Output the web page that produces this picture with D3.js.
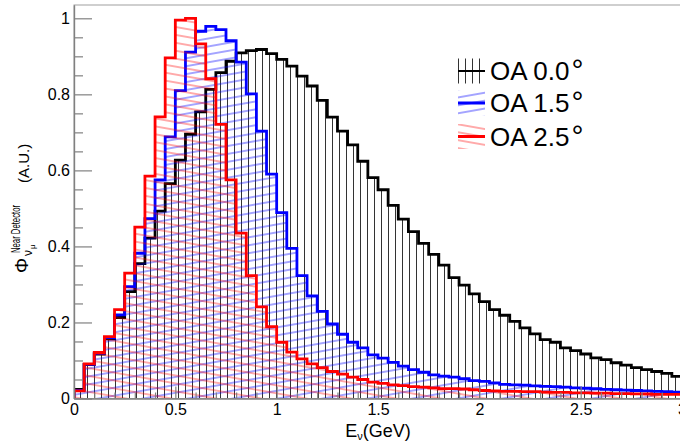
<!DOCTYPE html>
<html><head><meta charset="utf-8">
<script src="https://cdn.jsdelivr.net/npm/d3@7"></script>
<style>
body{margin:0;background:#fff}
svg{display:block}
text{font-family:"Liberation Sans",Arial,Helvetica,sans-serif}
</style>
</head><body>
<svg id="c" width="680" height="443"></svg>
<script>
// ---------------- data ----------------
const seriesNames = ["OA 0.0°", "OA 1.5°", "OA 2.5°"];
const seriesColors = ["#000000", "#0000ff", "#ff0000"];
const binWidth = 0.05;
const oa00 = [0.024,0.089,0.117,0.157,0.213,0.281,0.355,0.422,0.493,0.565,
              0.627,0.695,0.754,0.813,0.857,0.887,0.909,0.915,0.918,0.907,
              0.892,0.874,0.848,0.822,0.784,0.740,0.703,0.667,0.624,0.581,
              0.549,0.508,0.472,0.439,0.408,0.379,0.351,0.318,0.298,0.275,
              0.255,0.234,0.219,0.203,0.186,0.170,0.155,0.148,0.133,0.126,
              0.117,0.107,0.102,0.094,0.088,0.081,0.076,0.071,0.066,0.058];
const oa15 = [0.021,0.090,0.119,0.160,0.220,0.294,0.382,0.473,0.575,0.688,
              0.810,0.911,0.966,0.979,0.970,0.941,0.885,0.801,0.703,0.590,
              0.489,0.395,0.323,0.270,0.229,0.196,0.169,0.148,0.133,0.115,
              0.106,0.095,0.085,0.076,0.069,0.062,0.059,0.056,0.052,0.047,
              0.045,0.041,0.037,0.036,0.035,0.033,0.032,0.031,0.030,0.028,
              0.027,0.026,0.024,0.023,0.022,0.021,0.020,0.019,0.018,0.017];
const oa25 = [0.020,0.091,0.121,0.163,0.234,0.330,0.451,0.585,0.741,0.896,
              0.995,1.000,0.933,0.841,0.721,0.575,0.435,0.323,0.241,0.189,
              0.148,0.122,0.104,0.091,0.081,0.071,0.064,0.056,0.050,0.043,
              0.040,0.036,0.034,0.031,0.030,0.028,0.026,0.026,0.025,0.023,
              0.021,0.020,0.019,0.019,0.018,0.018,0.017,0.016,0.016,0.015,
              0.015,0.014,0.014,0.013,0.013,0.012,0.012,0.011,0.011,0.011];
const xTickValues = [0, 0.5, 1, 1.5, 2, 2.5, 3];
const xTickLabels = ["0", "0.5", "1", "1.5", "2", "2.5", "3"];
const yTickValues = [0, 0.2, 0.4, 0.6, 0.8, 1];
const yTickLabels = ["0", "0.2", "0.4", "0.6", "0.8", "1"];

// ---------------- layout ----------------
const svg = d3.select("#c");
const X0 = 74, X1 = 682, Y0 = 398.5, Y1 = 5;
const x = d3.scaleLinear().domain([0, 3]).range([X0, X1]);
const y = d3.scaleLinear().domain([0, 1.035]).range([Y0, Y1]);

const defs = svg.append("defs");
defs.append("clipPath").attr("id", "plotclip")
  .append("rect").attr("x", X0).attr("y", Y1).attr("width", X1 - X0).attr("height", Y0 - Y1);

// hatch patterns
function hatch(id, color, angle, opacity, gap) {
  const p = defs.append("pattern").attr("id", id)
    .attr("patternUnits", "userSpaceOnUse")
    .attr("width", gap).attr("height", gap)
    .attr("patternTransform", `rotate(${angle})`);
  p.append("line").attr("x1", 0).attr("x2", gap).attr("y1", gap / 2).attr("y2", gap / 2)
    .attr("stroke", color).attr("stroke-width", 1).attr("stroke-opacity", opacity);
}
hatch("h0", "#000", 90, 0.8, 7);
hatch("h1", "#0000ff", -10, 0.7, 7.8);
hatch("h2", "#ff0000", 10, 0.65, 7.8);

const allSeries = [oa00, oa15, oa25];
const plot = svg.append("g").attr("clip-path", "url(#plotclip)");

allSeries.forEach((vals, k) => {
  const pts = vals.map((v, i) => [i * binWidth, v]);
  pts.push([3, vals[vals.length - 1]]);
  const area = d3.area().curve(d3.curveStepAfter)
    .x(d => x(d[0])).y0(y(0)).y1(d => y(d[1]));
  plot.append("path").datum(pts).attr("d", area)
    .attr("fill", `url(#h${k})`).attr("stroke", "none");
  const outline = [[0, 0]].concat(pts).concat([[3, 0]]);
  const line = d3.line().curve(d3.curveStepAfter).x(d => x(d[0])).y(d => y(d[1]));
  plot.append("path").datum(outline).attr("d", line)
    .attr("fill", "none").attr("stroke", seriesColors[k])
    .attr("stroke-width", 2.8).attr("stroke-linejoin", "miter");
});

// ---------------- axes ----------------
const axisColor = "#808080";
svg.append("rect").attr("x", X0).attr("y", Y1).attr("width", X1 - X0).attr("height", Y0 - Y1)
  .attr("fill", "none").attr("stroke", "#a0a0a0").attr("stroke-width", 1);

const yMinorVals = d3.range(0, 21).map(i => i * 0.05).filter(v => Math.abs(v * 5 - Math.round(v * 5)) > 1e-6);
const xMinorVals = d3.range(0, 31).map(i => i * 0.1).filter(v => Math.abs(v * 2 - Math.round(v * 2)) > 1e-6);

const gy = svg.append("g").attr("transform", `translate(${X0},0)`)
  .call(d3.axisLeft(y).tickValues(yTickValues).tickFormat((d, i) => yTickLabels[i])
        .tickSizeInner(-18).tickSizeOuter(0).tickPadding(4));
const gym = svg.append("g").attr("transform", `translate(${X0},0)`)
  .call(d3.axisLeft(y).tickValues(yMinorVals).tickFormat("").tickSizeInner(-9).tickSizeOuter(0));
const gx = svg.append("g").attr("transform", `translate(0,${Y0})`)
  .call(d3.axisBottom(x).tickValues(xTickValues).tickFormat((d, i) => xTickLabels[i])
        .tickSizeInner(-12).tickSizeOuter(0).tickPadding(5));
const gxm = svg.append("g").attr("transform", `translate(0,${Y0})`)
  .call(d3.axisBottom(x).tickValues(xMinorVals).tickFormat("").tickSizeInner(-6).tickSizeOuter(0));
[gy, gym, gx, gxm].forEach(g => {
  g.select(".domain").attr("stroke", axisColor).attr("stroke-width", 1.2);
  g.selectAll(".tick line").attr("stroke", axisColor).attr("stroke-width", 1.2);
  g.selectAll(".tick text").attr("fill", "#000").attr("font-size", 16)
    .attr("font-family", '"Liberation Sans",Arial,Helvetica,sans-serif');
});

// x title
const xt = svg.append("text").attr("x", 378).attr("y", 437).attr("text-anchor", "middle")
  .attr("font-size", 18).attr("fill", "#000");
xt.append("tspan").text("E");
xt.append("tspan").attr("font-size", 11).attr("dy", 3).text("ν");
xt.append("tspan").attr("dy", -3).text("(GeV)");

// y title (rotated)
const yt = svg.append("g").attr("transform", "translate(28,273) rotate(-90)");
yt.append("text").attr("x", 0).attr("y", 0).attr("font-size", 19).attr("fill", "#000").text("Φ");
yt.append("text").attr("x", 17).attr("y", 4).attr("font-size", 12).attr("fill", "#000").text("ν");
yt.append("text").attr("x", 24).attr("y", 7).attr("font-size", 8).attr("fill", "#000").text("μ");
yt.append("text").attr("x", 20).attr("y", -8).attr("font-size", 13).attr("fill", "#000")
  .attr("textLength", 48).attr("lengthAdjust", "spacingAndGlyphs").text("Near Detector");
yt.append("text").attr("x", 90).attr("y", 1).attr("font-size", 15).attr("fill", "#000").text("(A.U.)");

// ---------------- legend ----------------
const legRows = [80, 112, 145.5];
const lg = svg.append("g");
seriesNames.forEach((name, k) => {
  const cy = legRows[k] - 9;
  lg.append("rect").attr("x", 458).attr("y", cy - 12.5).attr("width", 27).attr("height", 25)
    .attr("fill", `url(#h${k})`);
  lg.append("line").attr("x1", 458).attr("x2", 485).attr("y1", cy).attr("y2", cy)
    .attr("stroke", seriesColors[k]).attr("stroke-width", k === 0 ? 2 : 3);
  const t = lg.append("text").attr("x", 490).attr("y", legRows[k]).attr("font-size", 26).attr("fill", "#000");
  t.append("tspan").text(name.slice(0, -1));
  t.append("tspan").attr("font-size", 30).attr("dx", 2).text(name.slice(-1));
});
</script>
</body></html>
